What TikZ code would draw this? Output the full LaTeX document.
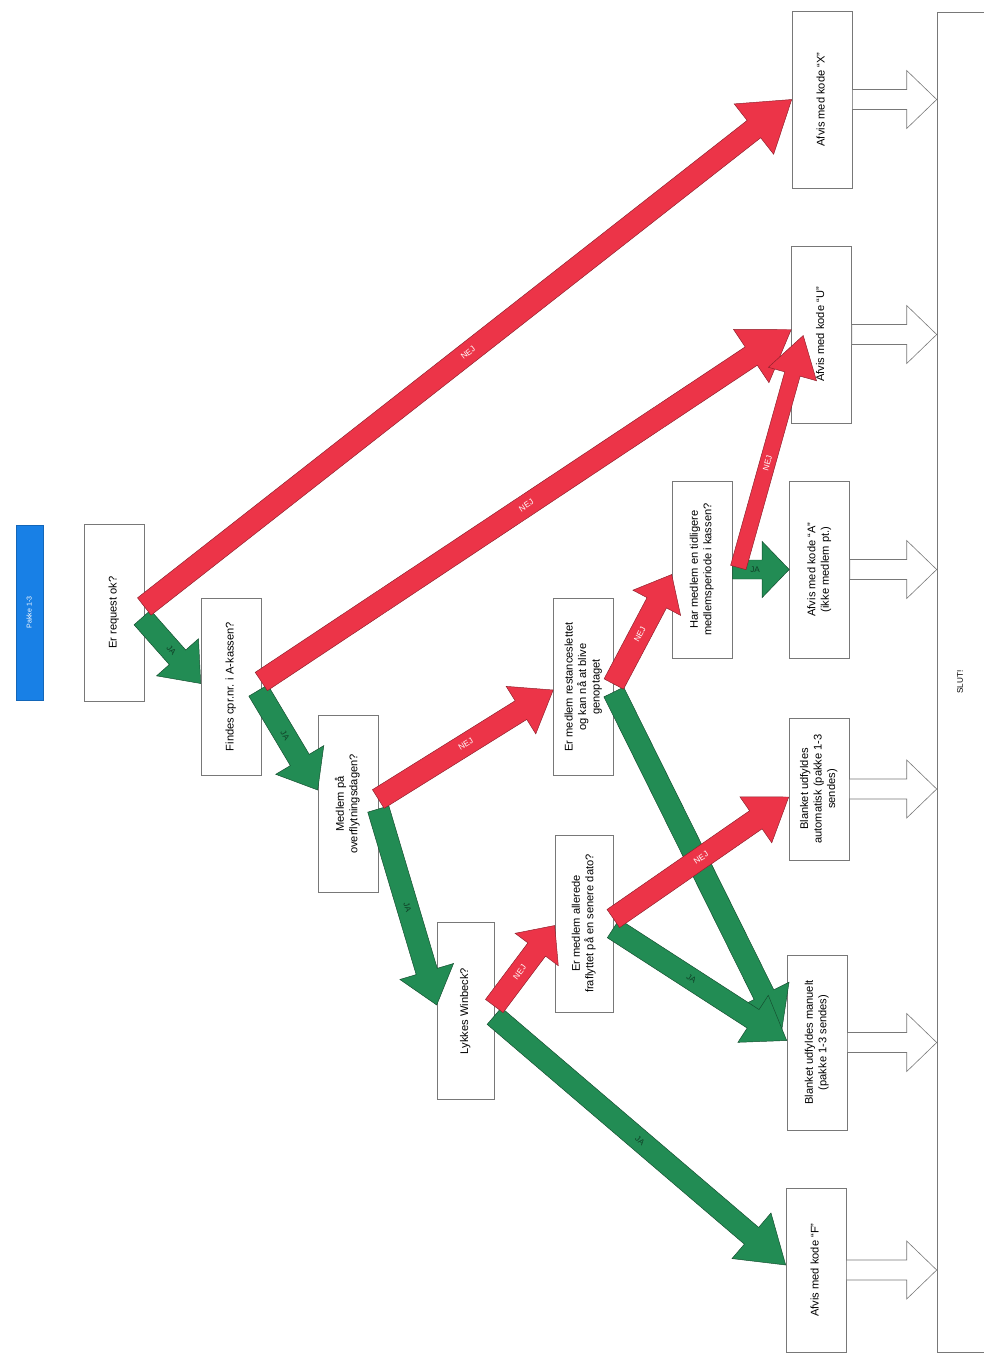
\documentclass[tikz,border=0pt]{standalone}
\usepackage{fontspec}
\setmainfont{Liberation Sans}
\usepackage{graphicx}
\usetikzlibrary{calc}

\definecolor{nejred}{RGB}{236,52,72}
\definecolor{jagreen}{RGB}{34,140,84}
\definecolor{pakkeblue}{RGB}{24,128,230}
\definecolor{boxgray}{RGB}{120,120,120}

\newcommand{\rot}[1]{\rotatebox{90}{\begin{tabular}{@{}c@{}}#1\end{tabular}}}

\newcommand{\fatarrow}[7]{%
	\coordinate (fa-a) at (#2);
	\coordinate (fa-b) at (#3);
	\coordinate (fa-c) at ($(fa-b)!#6*0.03cm!(fa-a)$);
	\draw[#1] ($(fa-a)!#4*0.03cm!90:(fa-b)$) -- ($(fa-c)!#4*0.03cm!90:(fa-b)$) -- ($(fa-c)!#5*0.03cm!90:(fa-b)$) -- (fa-b) -- ($(fa-c)!#5*0.03cm!-90:(fa-b)$) -- ($(fa-c)!#4*0.03cm!-90:(fa-b)$) -- ($(fa-a)!#4*0.03cm!-90:(fa-b)$) -- cycle;
	\path (fa-a) -- (fa-b) #7;
}

\begin{document}
\begin{tikzpicture}[x=0.03cm, y=-0.03cm,
	qbox/.style={draw=boxgray, line width=0.5pt, fill=white, minimum width=1.8cm, minimum height=5.31cm, inner sep=0pt, font=\fontsize{9.5}{11.5}\selectfont},
	nej/.style={draw=nejred!60!black, line width=0.4pt, fill=nejred},
	ja/.style={draw=jagreen!55!black, line width=0.4pt, fill=jagreen},
	slutarrow/.style={draw=boxgray, line width=0.5pt, fill=white},
	nejlbl/.style={sloped, text=white, font=\fontsize{7}{8}\selectfont, inner sep=0pt},
	jalbl/.style={sloped, text=jagreen!45!black, font=\fontsize{7}{8}\selectfont, inner sep=0pt}]
	\useasboundingbox (0,0) rectangle (984,1361);

	% boxes
	\node[qbox, fill=pakkeblue, draw=pakkeblue!80!black, minimum width=0.81cm, minimum height=5.25cm, text=white, font=\fontsize{6}{7}\selectfont] (pakke) at (30,612.5) {\rot{Pakke 1-3}};
	\node[qbox] (req) at (114,612.5) {\rot{Er request ok?}};
	\node[qbox] (findes) at (231,686.5) {\rot{Findes cpr.nr. i A-kassen?}};
	\node[qbox] (medlem) at (348,804) {\rot{Medlem på\\overflytningsdagen?}};
	\node[qbox, minimum width=1.71cm] (lykkes) at (465.5,1011) {\rot{Lykkes Winbeck?}};
	\node[qbox] (restance) at (583.5,687) {\rot{Er medlem restanceslettet\\og kan nå at blive\\genoptaget}};
	\node[qbox, minimum width=1.74cm] (allerede) at (584,923.5) {\rot{Er medlem allerede\\fraflyttet på en senere dato?}};
	\node[qbox] (har) at (702,569.5) {\rot{Har medlem en tidligere\\medlemsperiode i kassen?}};
	\node[qbox] (afvA) at (819.5,569.5) {\rot{Afvis med kode ``A''\\(ikke medlem pt.)}};
	\node[qbox] (afvU) at (821.5,334.5) {\rot{Afvis med kode ``U''}};
	\node[qbox] (afvX) at (822,99.5) {\rot{Afvis med kode ``X''}};
	\node[qbox, minimum height=4.26cm] (autom) at (819,789) {\rot{Blanket udfyldes\\automatisk (pakke 1-3\\sendes)}};
	\node[qbox, minimum height=5.25cm] (manuel) at (817,1042.5) {\rot{Blanket udfyldes manuelt\\(pakke 1-3 sendes)}};
	\node[qbox, minimum height=4.92cm] (afvF) at (816,1270) {\rot{Afvis med kode ``F''}};
	\node[qbox, minimum width=1.44cm, minimum height=40.2cm, font=\fontsize{7}{8}\selectfont] (slut) at (961,682) {\rot{SLUT!}};

	% arrows to SLUT
	\foreach \b in {afvX,afvU,afvA,autom,manuel,afvF} {
		\fatarrow{slutarrow}{\b.east}{\b.east -| slut.west}{10}{29}{30}{}
	}

	% JA
	\fatarrow{ja}{$(req.east)+(-2,5)$}{$(findes.west)+(0,-3)$}{11}{28}{35}{node[jalbl,pos=.5]{JA}}
	\fatarrow{ja}{$(findes.east)+(-3,4)$}{$(medlem.west)+(0,-14)$}{11}{28}{35}{node[jalbl,pos=.45]{JA}}
	\fatarrow{ja}{$(medlem.east)+(0,5)$}{$(lykkes.west)+(0,-6)$}{11}{28}{35}{node[jalbl,pos=.5]{JA}}
	\fatarrow{ja}{$(lykkes.east)+(0,5)$}{$(afvF.west)+(0,-5)$}{11}{30}{45}{node[jalbl,pos=.5]{JA}}
	\fatarrow{ja}{$(restance.east)+(0,5)$}{$(manuel.west)+(-5,-12)$}{11}{28}{40}{}
	\fatarrow{ja}{$(allerede.east)+(0,5)$}{$(manuel.west)+(0,-2)$}{11}{28}{40}{node[jalbl,pos=.45]{JA}}
	\fatarrow{ja}{har.east}{afvA.west}{9.5}{28}{27}{node[jalbl,pos=.4]{JA}}

	% NEJ
	\fatarrow{nej}{$(req.east)+(0,-6)$}{afvX.west}{11}{32}{48}{node[nejlbl,pos=.5]{NEJ}}
	\fatarrow{nej}{$(findes.east)+(0,-5)$}{$(afvU.west)+(0,-5)$}{11}{32}{48}{node[nejlbl,pos=.5]{NEJ}}
	\fatarrow{nej}{$(medlem.east)+(0,-5)$}{$(restance.west)+(0,3)$}{11}{28}{38}{node[nejlbl,pos=.5]{NEJ}}
	\fatarrow{nej}{$(lykkes.east)+(0,-5)$}{$(allerede.west)+(0,2)$}{11}{27}{30}{node[nejlbl,pos=.42]{NEJ}}
	\fatarrow{nej}{$(allerede.east)+(0,-5)$}{$(autom.west)+(0,8)$}{11}{28}{40}{node[nejlbl,pos=.5]{NEJ}}
	\fatarrow{nej}{$(restance.east)+(0,-3)$}{$(har.west)+(0,5)$}{11}{27}{32}{node[nejlbl,pos=.45]{NEJ}}
	\fatarrow{nej}{$(har.east)+(6,-2)$}{$(afvU.west)+(12,1)$}{8}{25}{40}{node[nejlbl,pos=.45]{NEJ}}
\end{tikzpicture}
\end{document}
